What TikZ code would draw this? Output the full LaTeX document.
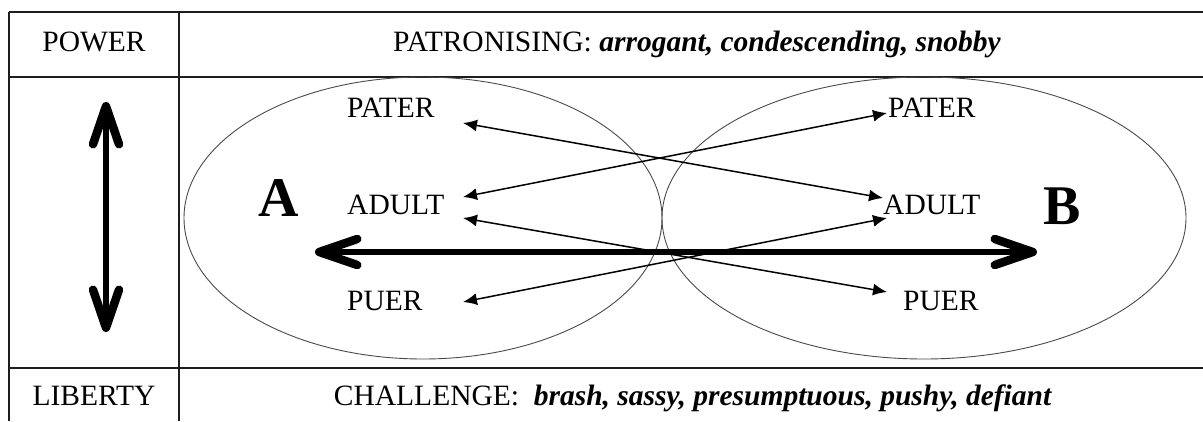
\documentclass[tikz,border=0pt]{standalone}
\usepackage{fontspec}
\setmainfont{Liberation Serif}
\usetikzlibrary{arrows.meta}
\definecolor{gridBlack}{HTML}{1E1E1E}
\definecolor{ringGrey}{HTML}{4A4A4A}

\begin{document}
\begin{tikzpicture}[x=1pt, y=1pt, every node/.style={font=\fontsize{29.5}{34}\selectfont, inner sep=0pt},
    role/.style={anchor=base west},
    linkarrow/.style={line width=1.5pt, {Latex[length=14pt,width=12pt]}-{Latex[length=14pt,width=12pt]}},
    bigarrow/.style={line width=6.5pt, {Straight Barb[length=38pt,width=26pt,line width=8.5pt,round]}-{Straight Barb[length=38pt,width=26pt,line width=8.5pt,round]}}]
    \useasboundingbox (0,0) rectangle (1203,421);
    % table
    \draw[gridBlack, line width=1.5pt] (9,409) -- (1203,409) (9,344) -- (1203,344) (9,53) -- (1203,53)
        (9,409) -- (9,0) (179,409) -- (179,0);
    \node[anchor=base] (power) at (94,369) {POWER};
    \node[anchor=base] (patron) at (697,369) {PATRONISING: \textbf{\textit{arrogant, condescending, snobby}}};
    \node[anchor=base] (liberty) at (94,16) {LIBERTY};
    \node[anchor=base] (challenge) at (693,16) {CHALLENGE:\ \ \textbf{\textit{brash, sassy, presumptuous, pushy, defiant}}};
    % the two persons
    \draw[ringGrey, line width=0.9pt] (423,203) ellipse (239 and 141);
    \draw[ringGrey, line width=0.9pt] (924,203) ellipse (262 and 141);
    \node[font=\fontsize{56}{60}\selectfont\bfseries, anchor=base] (a) at (279,204) {A};
    \node[font=\fontsize{56}{60}\selectfont\bfseries, anchor=base] (b) at (1062,196) {B};
    \foreach \nm/\lbl/\yy in {pater/PATER/303, adult/ADULT/206, puer/PUER/111}{
        \node[role] (l\nm) at (347,\yy) {\lbl};
    }
    \foreach \nm/\lbl/\xx/\yy in {pater/PATER/888/303, adult/ADULT/883/206, puer/PUER/903/111}{
        \node[role] (r\nm) at (\xx,\yy) {\lbl};
    }
    \draw[linkarrow] ([xshift=116pt,yshift=-5pt]lpater.base west) -- ([yshift=17pt]radult.base west);
    \draw[linkarrow] ([xshift=116pt,yshift=18pt]ladult.base west) -- ([xshift=-1pt,yshift=5pt]rpater.base west);
    \draw[linkarrow] ([xshift=116pt,yshift=-3pt]ladult.base west) -- ([xshift=-16pt,yshift=18pt]rpuer.base west);
    \draw[linkarrow] ([xshift=116pt,yshift=8pt]lpuer.base west) -- ([xshift=4pt,yshift=-3pt]radult.base west);
    % power scale and the exchange
    \coordinate (up) at (106,319);
    \coordinate (down) at (106,89);
    \draw[bigarrow] (down) -- (up);
    \coordinate (ha) at (315,169);
    \coordinate (hb) at (1037,169);
    \draw[bigarrow] (ha) -- (hb);
\end{tikzpicture}
\end{document}
